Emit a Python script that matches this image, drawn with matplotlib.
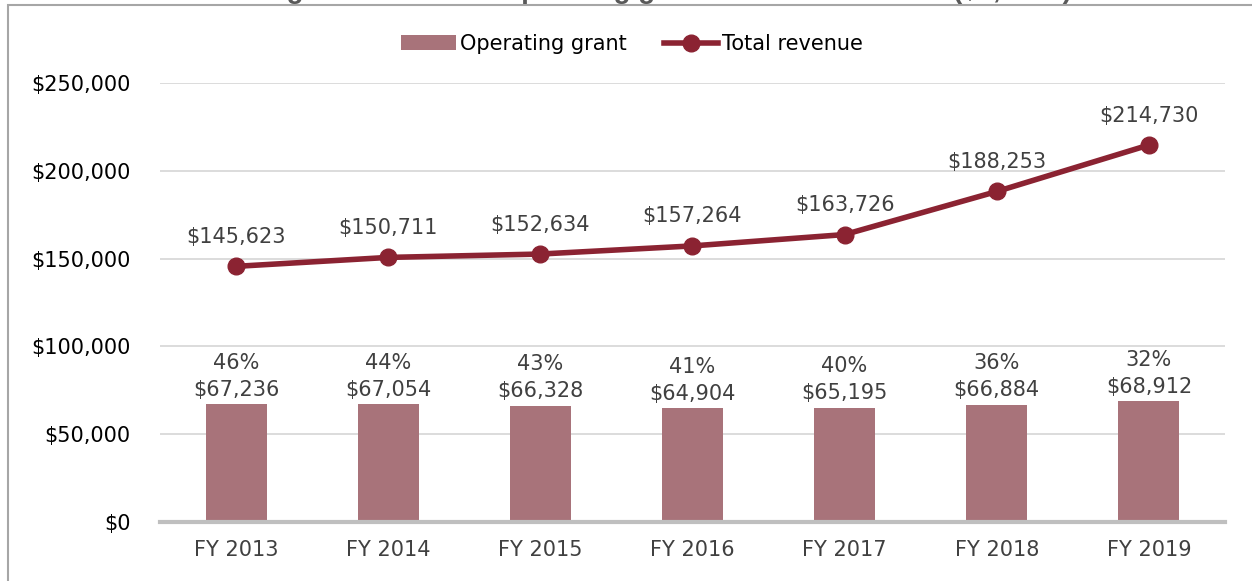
import matplotlib.pyplot as plt
import matplotlib.patches as mpatches
from matplotlib.ticker import FuncFormatter
import numpy as np

plt.rcParams.update({
    'font.family': ['DejaVu Sans'],
    'axes.edgecolor': '#bfbfbf',
})

BAR_COLOR = '#a8737a'
LINE_COLOR = '#8b2332'
LABEL_COLOR = '#404040'

years = ['FY 2013', 'FY 2014', 'FY 2015', 'FY 2016', 'FY 2017', 'FY 2018', 'FY 2019']
operating_grant = [67236, 67054, 66328, 64904, 65195, 66884, 68912]
total_revenue = [145623, 150711, 152634, 157264, 163726, 188253, 214730]
y_ticks = [0, 50000, 100000, 150000, 200000, 250000]

fig = plt.figure(figsize=(12.52, 5.81), dpi=100)
ax = fig.add_axes([0.1278, 0.1015, 0.8506, 0.7555])

# outer chart frame (partly cropped like the source)
fig.patches.append(mpatches.Rectangle((8 / 1252, -0.1), 1.2, 1 - 5 / 581 + 0.1,
                                      transform=fig.transFigure, fill=False,
                                      edgecolor='#a6a6a6', lw=1.5))
# cropped title
fig.text(0.533, 1 + 2 / 581, 'Figure 4: Trend of operating grant and total revenue ($1,000s)',
         ha='center', va='baseline', fontsize=20, fontweight='bold', color='#595959',
         family='Liberation Sans')

x = np.arange(len(years))
bars = ax.bar(x, operating_grant, 0.4, color=BAR_COLOR, zorder=3, label='Operating grant')
line, = ax.plot(x, total_revenue, '-o', color=LINE_COLOR, lw=4, ms=12, zorder=4,
                label='Total revenue')

for xi, g, t in zip(x, operating_grant, total_revenue):
    ax.annotate(f'{round(100 * g / t)}%\n${g:,}', (xi, g), xytext=(0, 3),
                textcoords='offset points', ha='center', va='bottom', fontsize=15,
                color=LABEL_COLOR, linespacing=1.45)
    ax.annotate(f'${t:,}', (xi, t), xytext=(0, 14), textcoords='offset points',
                ha='center', va='bottom', fontsize=15, color=LABEL_COLOR)

ax.set_xlim(-0.5, len(years) - 0.5)
ax.set_ylim(0, 250000)
ax.set_yticks(y_ticks)
ax.yaxis.set_major_formatter(FuncFormatter(lambda v, p: f'${v:,.0f}'))
ax.set_xticks(x)
ax.set_xticklabels(years, color=LABEL_COLOR)
ax.tick_params(axis='both', length=0, labelsize=15)
ax.tick_params(axis='y', pad=21)
ax.tick_params(axis='x', pad=13)
ax.yaxis.grid(True, color='#d9d9d9', lw=1.3, zorder=0)
for s in ['top', 'right', 'left']:
    ax.spines[s].set_visible(False)
ax.spines['bottom'].set_color('#bfbfbf')
ax.spines['bottom'].set_linewidth(3)
ax.spines['bottom'].set_zorder(5)

fig.legend(handles=[bars, line], loc='center', bbox_to_anchor=(0.505, 1 - 44 / 581),
           ncol=2, frameon=False, handlelength=2.6, columnspacing=1.8,
           handletextpad=0.2, prop={'size': 15})

fig.savefig('out.png', dpi=100)
